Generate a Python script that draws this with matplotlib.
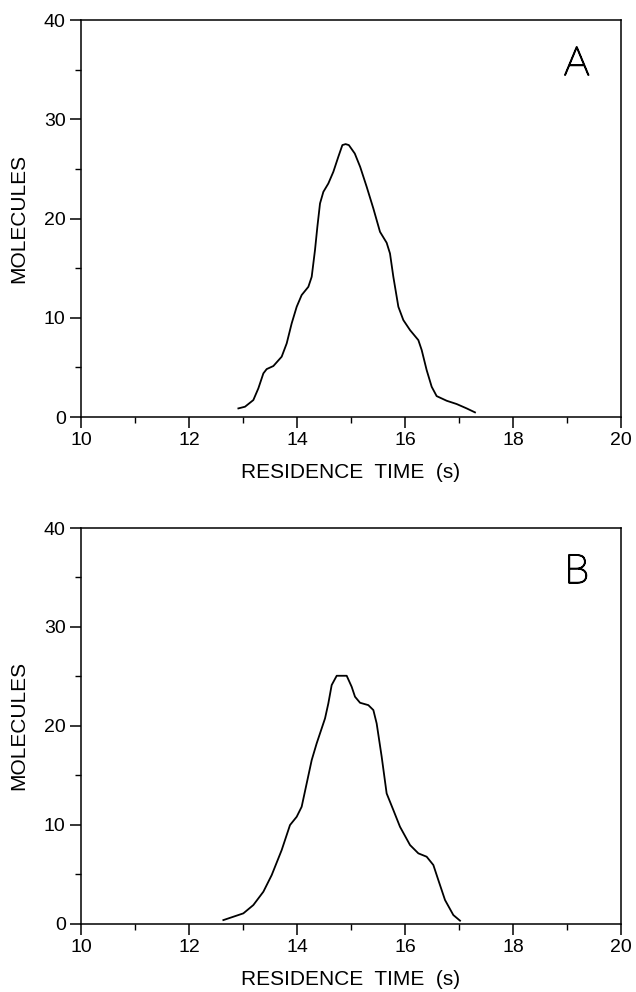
import matplotlib
matplotlib.use("Agg")
import matplotlib.pyplot as plt
import matplotlib.patheffects as pe
from matplotlib.ticker import MultipleLocator

plt.rcParams['font.family'] = ['Liberation Sans', 'DejaVu Sans']

# Panel A
time_a = [12.914, 13.037, 13.191, 13.284, 13.377, 13.438, 13.562, 13.716, 13.809, 13.901,
          13.994, 14.086, 14.210, 14.272, 14.333, 14.377, 14.426, 14.488, 14.580, 14.673,
          14.765, 14.84, 14.90, 14.96, 15.07, 15.17, 15.290, 15.414, 15.537, 15.660,
          15.722, 15.784, 15.877, 15.969, 16.093, 16.247, 16.309, 16.401, 16.494, 16.586,
          16.772, 16.957, 17.142, 17.296]
mol_a = [0.87, 1.04, 1.71, 2.89, 4.40, 4.83, 5.14, 6.08, 7.42, 9.43,
         11.11, 12.29, 13.12, 14.13, 16.82, 19.17, 21.52, 22.69, 23.53, 24.71,
         26.22, 27.4, 27.5, 27.4, 26.55, 25.2, 23.2, 21.01, 18.66, 17.56,
         16.48, 14.13, 11.11, 9.77, 8.76, 7.75, 6.75, 4.73, 3.05, 2.11,
         1.64, 1.31, 0.87, 0.47]

# Panel B
time_b = [12.636, 12.821, 13.006, 13.191, 13.377, 13.531, 13.716, 13.870, 13.994, 14.086,
          14.179, 14.272, 14.364, 14.519, 14.580, 14.642, 14.735, 14.920, 15.012, 15.074,
          15.167, 15.321, 15.414, 15.475, 15.568, 15.660, 15.784, 15.907, 16.093, 16.247,
          16.401, 16.525, 16.617, 16.741, 16.895, 17.019]
mol_b = [0.35, 0.69, 1.03, 1.87, 3.22, 4.90, 7.43, 9.96, 10.80, 11.81,
         14.17, 16.53, 18.22, 20.75, 22.26, 24.12, 25.06, 25.06, 23.95, 22.94,
         22.33, 22.09, 21.59, 20.24, 16.87, 13.16, 11.48, 9.79, 7.94, 7.10,
         6.76, 5.92, 4.40, 2.38, 0.86, 0.29]

panels = [("A", time_a, mol_a), ("B", time_b, mol_b)]

fig = plt.figure(figsize=(6.36, 9.92), dpi=100)
rects = [[0.1274, 0.5796, 0.849, 0.4002], [0.1274, 0.0690, 0.849, 0.3987]]

for rect, (label, t, m) in zip(rects, panels):
    ax = fig.add_axes(rect)
    ax.plot(t, m, color='black', lw=1.3, solid_joinstyle='round')
    ax.set_xlim(10, 20)
    ax.set_ylim(0, 40)
    ax.xaxis.set_major_locator(MultipleLocator(2))
    ax.xaxis.set_minor_locator(MultipleLocator(1))
    ax.yaxis.set_major_locator(MultipleLocator(10))
    ax.yaxis.set_minor_locator(MultipleLocator(5))
    ax.tick_params(which='major', direction='out', length=8, width=1.1, labelsize=14, pad=3)
    ax.tick_params(which='minor', direction='out', length=4, width=1.0)
    for s in ax.spines.values():
        s.set_linewidth(1.1)
    ax.set_xlabel("RESIDENCE  TIME  (s)", fontsize=15, labelpad=10)
    ax.set_ylabel("MOLECULES", fontsize=15, labelpad=11)
    ax.text(0.918, 0.889, label, transform=ax.transAxes, fontsize=29,
            family=['Lato', 'Liberation Sans', 'DejaVu Sans'], fontweight='light',
            ha='center', va='center', color='black',
            path_effects=[pe.withStroke(linewidth=1.1, foreground='black')])

fig.savefig("out.png", dpi=100)
